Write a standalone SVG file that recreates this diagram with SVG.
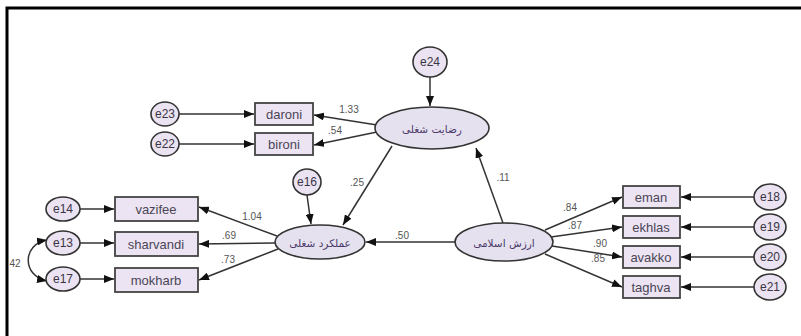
<svg xmlns="http://www.w3.org/2000/svg" width="801" height="336" viewBox="0 0 801 336">
<defs>
<marker id="ah" viewBox="0 0 10 8" refX="10" refY="4" markerWidth="10" markerHeight="8" markerUnits="userSpaceOnUse" orient="auto-start-reverse">
<path d="M0,0 L10,4 L0,8 Z" fill="#111"/>
</marker>
</defs>
<style>
.lat{fill:#e6e1ef;stroke:#333;stroke-width:1.6}
.err{fill:#ebe3f2;stroke:#333;stroke-width:1.6}
.box{fill:#ede4f3;stroke:#444;stroke-width:1.8}
.bt{font-family:"Liberation Sans",Arial,sans-serif;font-size:13px;fill:#4a4656;text-anchor:middle;dominant-baseline:central}
.et{font-family:"Liberation Sans",Arial,sans-serif;font-size:12px;fill:#3a3545;text-anchor:middle;dominant-baseline:central}
.pt{font-family:"DejaVu Sans",sans-serif;font-size:10.5px;fill:#4a3a6a;text-anchor:middle;dominant-baseline:central}
.lab{font-family:"Liberation Sans",Arial,sans-serif;font-size:10px;fill:#555;text-anchor:middle;dominant-baseline:central}
.c{fill:none;stroke:#333;stroke-width:1.5;marker-end:url(#ah)}
</style>
<rect x="7" y="8" width="800" height="335" fill="#fff" stroke="#000" stroke-width="3"/>
<g id="connectors">
<line class="c" x1="430" y1="77" x2="430" y2="106"/>
<line class="c" x1="377" y1="125" x2="314" y2="115"/>
<line class="c" x1="377" y1="132" x2="314" y2="145"/>
<line class="c" x1="392" y1="146" x2="343" y2="225"/>
<line class="c" x1="503" y1="223" x2="476" y2="148"/>
<line class="c" x1="455" y1="242" x2="366" y2="242"/>
<line class="c" x1="307" y1="195" x2="311" y2="224"/>
<line class="c" x1="277" y1="236" x2="199" y2="207"/>
<line class="c" x1="275" y1="243" x2="199" y2="244"/>
<line class="c" x1="278" y1="249" x2="199" y2="280"/>
<line class="c" x1="179" y1="114" x2="254" y2="114"/>
<line class="c" x1="179" y1="144" x2="254" y2="144"/>
<line class="c" x1="80" y1="209" x2="114" y2="209"/>
<line class="c" x1="80" y1="243" x2="114" y2="243"/>
<line class="c" x1="80" y1="279" x2="114" y2="279"/>
<line class="c" x1="545" y1="230" x2="622" y2="197"/>
<line class="c" x1="551" y1="237" x2="622" y2="227"/>
<line class="c" x1="552" y1="246" x2="622" y2="257"/>
<line class="c" x1="545" y1="254" x2="622" y2="287"/>
<line class="c" x1="754" y1="197" x2="681" y2="197"/>
<line class="c" x1="754" y1="227" x2="681" y2="227"/>
<line class="c" x1="754" y1="257" x2="681" y2="257"/>
<line class="c" x1="754" y1="287" x2="681" y2="287"/>
<path class="c" d="M47,240 C22,244 22,276 47,281" marker-start="url(#ah)"/>
<text class="lab" x="349" y="109">1.33</text>
<text class="lab" x="335" y="130">.54</text>
<text class="lab" x="357" y="182">.25</text>
<text class="lab" x="503" y="177">.11</text>
<text class="lab" x="402" y="235">.50</text>
<text class="lab" x="252" y="216">1.04</text>
<text class="lab" x="229" y="235">.69</text>
<text class="lab" x="228" y="259">.73</text>
<text class="lab" x="570" y="207">.84</text>
<text class="lab" x="575" y="225">.87</text>
<text class="lab" x="600" y="243">.90</text>
<text class="lab" x="598" y="258">.85</text>
<text class="lab" x="15" y="263">42</text>
</g>
<g id="lat_satisfaction"><ellipse class="lat" cx="432" cy="128" rx="57" ry="21"/><text class="pt" x="432" y="129">رضایت شغلی</text></g>
<g id="lat_performance"><ellipse class="lat" cx="320" cy="242" rx="45" ry="17"/><text class="pt" x="320" y="243">عملکرد شغلی</text></g>
<g id="lat_values"><ellipse class="lat" cx="504" cy="242" rx="49" ry="19"/><text class="pt" x="504" y="243">ارزش اسلامی</text></g>
<g id="e24"><ellipse class="err" cx="430" cy="62" rx="17" ry="15"/><text class="et" x="430" y="62">e24</text></g>
<g id="e23"><ellipse class="err" cx="165" cy="114" rx="14" ry="12"/><text class="et" x="165" y="114">e23</text></g>
<g id="e22"><ellipse class="err" cx="165" cy="144" rx="14" ry="12"/><text class="et" x="165" y="144">e22</text></g>
<g id="e16"><ellipse class="err" cx="307" cy="182" rx="14" ry="13"/><text class="et" x="307" y="182">e16</text></g>
<g id="e14"><ellipse class="err" cx="63" cy="209" rx="17" ry="12"/><text class="et" x="63" y="209">e14</text></g>
<g id="e13"><ellipse class="err" cx="63" cy="243" rx="17" ry="12"/><text class="et" x="63" y="243">e13</text></g>
<g id="e17"><ellipse class="err" cx="63" cy="279" rx="17" ry="12"/><text class="et" x="63" y="279">e17</text></g>
<g id="e18"><ellipse class="err" cx="770" cy="197" rx="16" ry="13"/><text class="et" x="770" y="197">e18</text></g>
<g id="e19"><ellipse class="err" cx="770" cy="227" rx="16" ry="13"/><text class="et" x="770" y="227">e19</text></g>
<g id="e20"><ellipse class="err" cx="770" cy="257" rx="16" ry="13"/><text class="et" x="770" y="257">e20</text></g>
<g id="e21"><ellipse class="err" cx="770" cy="287" rx="16" ry="13"/><text class="et" x="770" y="287">e21</text></g>
<g id="daroni"><rect class="box" x="255" y="103" width="58" height="22"/><text class="bt" x="284" y="114">daroni</text></g>
<g id="bironi"><rect class="box" x="255" y="133" width="58" height="22"/><text class="bt" x="284" y="144">bironi</text></g>
<g id="vazifee"><rect class="box" x="115" y="197" width="83" height="24"/><text class="bt" x="156" y="209">vazifee</text></g>
<g id="sharvandi"><rect class="box" x="115" y="232" width="83" height="24"/><text class="bt" x="156" y="244">sharvandi</text></g>
<g id="mokharb"><rect class="box" x="115" y="268" width="83" height="24"/><text class="bt" x="156" y="280">mokharb</text></g>
<g id="eman"><rect class="box" x="623" y="186" width="57" height="22"/><text class="bt" x="651" y="197">eman</text></g>
<g id="ekhlas"><rect class="box" x="623" y="216" width="57" height="22"/><text class="bt" x="651" y="227">ekhlas</text></g>
<g id="avakko"><rect class="box" x="623" y="246" width="57" height="22"/><text class="bt" x="651" y="257">avakko</text></g>
<g id="taghva"><rect class="box" x="623" y="276" width="57" height="22"/><text class="bt" x="651" y="287">taghva</text></g>
</svg>
